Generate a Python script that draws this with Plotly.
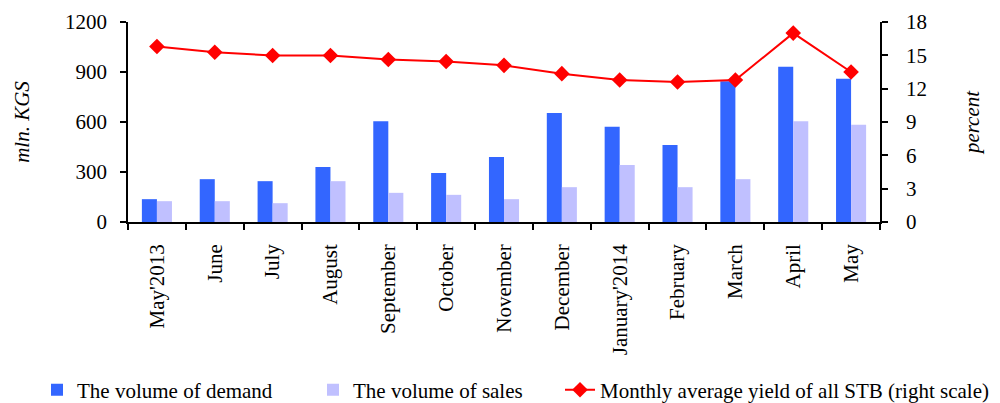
import plotly.graph_objects as go

months = ["May'2013", "June", "July", "August", "September", "October", "November",
          "December", "January'2014", "February", "March", "April", "May"]
demand = [137, 257, 245, 330, 605, 294, 390, 654, 571, 462, 845, 931, 859]
sales = [125, 125, 113, 245, 175, 163, 137, 209, 342, 209, 257, 605, 583]
yield_pct = [15.8, 15.28, 14.98, 14.98, 14.62, 14.44, 14.1, 13.35, 12.78, 12.6, 12.78, 17.0, 13.5]

FONT = "Liberation Serif"

fig = go.Figure()
fig.add_trace(go.Bar(x=months, y=demand, name="The volume of demand", legend="legend",
                     marker=dict(color="#3366FF", line=dict(width=0))))
fig.add_trace(go.Bar(x=months, y=sales, name="The volume of sales", legend="legend2",
                     marker=dict(color="#C0C0FF", line=dict(width=0))))
fig.add_trace(go.Scatter(x=months, y=yield_pct, name="Monthly average yield of all STB (right scale)",
                         yaxis="y2", mode="lines+markers", legend="legend3",
                         line=dict(color="#FF0000", width=2),
                         marker=dict(symbol="diamond", size=12, color="#FF0000")))

def leg(x):
    return dict(orientation="h", x=x, xanchor="left", xref="container",
                y=0.032, yanchor="middle", yref="container",
                font=dict(family=FONT, size=21), bgcolor="rgba(0,0,0,0)",
                borderwidth=0)

fig.update_layout(
    width=1000, height=403,
    margin=dict(l=128, r=120, t=22, b=181),
    paper_bgcolor="white", plot_bgcolor="white",
    font=dict(family=FONT, size=21, color="black"),
    barmode="group", bargap=0.48, bargroupgap=0,
    showlegend=True,
    legend=leg(0.037),
    legend2=leg(0.313),
    legend3=leg(0.560),
    xaxis=dict(type="category", range=[-0.5, len(months) - 0.5],
               showline=True, linecolor="black", linewidth=1.5,
               ticks="outside", tickson="boundaries", ticklen=6, tickcolor="black",
               tickwidth=1.5, tickangle=-90, showgrid=False, automargin=False,
               ticklabelstandoff=12,
               tickfont=dict(family=FONT, size=21)),
    yaxis=dict(range=[0, 1200], tickvals=[0, 300, 600, 900, 1200], showline=True,
               linecolor="black", linewidth=1.5, ticks="outside", ticklen=6,
               tickcolor="black", tickwidth=1.5, showgrid=False, zeroline=False,
               automargin=False, ticklabelstandoff=9,
               tickfont=dict(family=FONT, size=21),
               title=dict(text="<i>mln. KGS</i>", font=dict(family=FONT, size=21), standoff=30)),
    yaxis2=dict(range=[0, 18], tickvals=[0, 3, 6, 9, 12, 15, 18], overlaying="y", side="right",
                showline=True, linecolor="black", linewidth=1.5, ticks="outside", ticklen=6,
                tickcolor="black", tickwidth=1.5, showgrid=False, zeroline=False,
                automargin=False, ticklabelstandoff=14,
                tickfont=dict(family=FONT, size=21),
                title=dict(text="<i>percent</i>", font=dict(family=FONT, size=21), standoff=38)),
)

fig.write_html("out.html")
